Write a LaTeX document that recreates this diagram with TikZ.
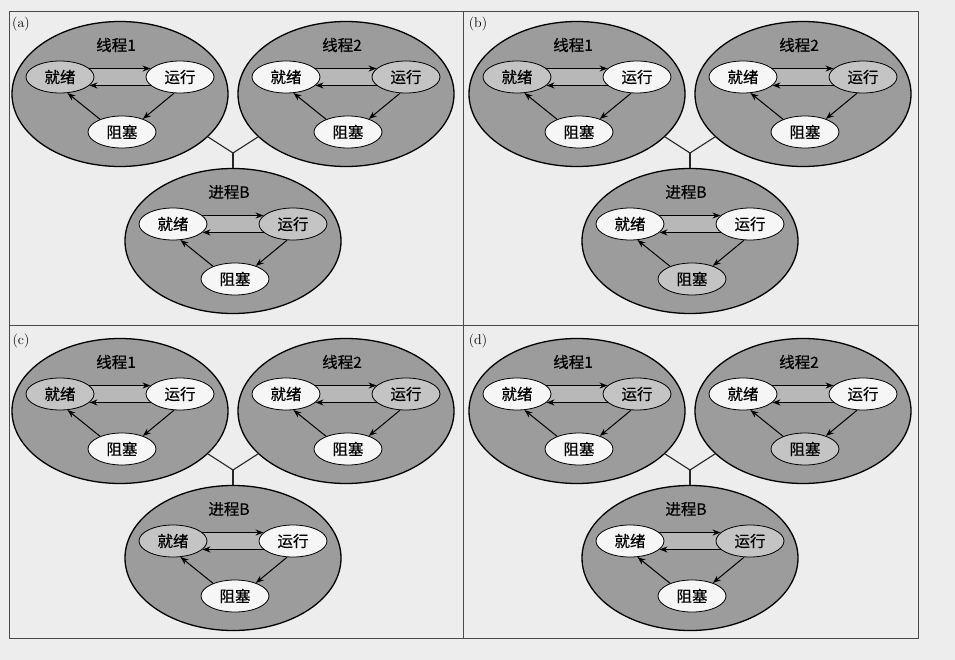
\documentclass[tikz,border=0pt]{standalone}
\usepackage{fontspec}
\newfontfamily\cjk[FakeBold=0.6]{Noto Sans CJK SC}
\usetikzlibrary{shapes.geometric,arrows.meta}
\definecolor{pagebg}{HTML}{EDEDED}
\definecolor{bigfill}{HTML}{9C9C9C}
\definecolor{bandfill}{HTML}{B8B8B8}
\definecolor{hifill}{HTML}{C4C4C4}
\definecolor{lofill}{HTML}{F6F6F6}
\definecolor{framecol}{HTML}{4A4A4A}
\tikzset{
 bigell/.style={ellipse, draw=black, line width=1.3pt, fill=bigfill, minimum width=216pt, minimum height=145pt, inner sep=0pt},
 stbox/.style={ellipse, draw=black, line width=0.8pt, minimum width=68pt, minimum height=32pt, inner sep=0pt, font=\cjk\fontsize{15.5}{15.5}\selectfont},
 ttl/.style={font=\cjk\fontsize{15.5}{15.5}\selectfont, inner sep=0pt},
 arr/.style={-{Stealth[length=8pt,width=6pt]}, line width=1pt},
 link/.style={line width=1.1pt, draw=black!85},
 plabel/.style={font=\fontsize{14}{14}\selectfont, inner sep=0pt},
 framel/.style={draw=framecol, line width=0.9pt}
}
\newcommand\procunit[6]{%
 \node[bigell] (#1) at (#2) {};
 \begin{scope}[shift={(#2)}]
  \fill[bandfill] (-32,-25) rectangle (31,-9);
  \node[ttl] (#1t) at (-4,-49) {#3};
  \node[stbox, fill=#4] (#1j) at (-60,-17) {就绪};
  \node[stbox, fill=#5] (#1r) at (60,-17) {运行};
  \node[stbox, fill=#6] (#1b) at (2,38) {阻塞};
 \end{scope}
 \draw[arr] (#1j.16) -- (#1r.164);
 \draw[arr] (#1r.-164) -- (#1j.-16);
 \draw[arr] (#1r.-110) -- (#1b.32);
 \draw[arr] (#1b.150) -- (#1j.-65);
}
\begin{document}
\begin{tikzpicture}[x=1pt, y=-1pt]
\useasboundingbox (0,0) rectangle (955,660);
\fill[pagebg] (0,0) rectangle (955,660);
\draw[framel] (9,11) rectangle (918,638);
\draw[framel] (463,11) -- (463,638);
\draw[framel] (9,325) -- (918,325);
% panel (a)
\begin{scope}[shift={(0,0)}]
 \node[plabel] (la) at (21,24) {(a)};
 \procunit{pa1}{120,94}{线程1}{hifill}{lofill}{lofill}
 \procunit{pa2}{346,94}{线程2}{lofill}{hifill}{lofill}
 \procunit{paB}{233,241}{进程B}{lofill}{hifill}{lofill}
 \coordinate (pajn) at (233,153);
 \draw[link] (pa1.-26) -- (pajn) -- (pa2.-154);
 \draw[link] (pajn) -- (paB.north);
\end{scope}
% panel (b)
\begin{scope}[shift={(457,0)}]
 \node[plabel] (lb) at (21,24) {(b)};
 \procunit{pb1}{120,94}{线程1}{hifill}{lofill}{lofill}
 \procunit{pb2}{346,94}{线程2}{lofill}{hifill}{lofill}
 \procunit{pbB}{233,241}{进程B}{lofill}{lofill}{hifill}
 \coordinate (pbjn) at (233,153);
 \draw[link] (pb1.-26) -- (pbjn) -- (pb2.-154);
 \draw[link] (pbjn) -- (pbB.north);
\end{scope}
% panel (c)
\begin{scope}[shift={(0,317)}]
 \node[plabel] (lc) at (21,24) {(c)};
 \procunit{pc1}{120,94}{线程1}{hifill}{lofill}{lofill}
 \procunit{pc2}{346,94}{线程2}{lofill}{hifill}{lofill}
 \procunit{pcB}{233,241}{进程B}{hifill}{lofill}{lofill}
 \coordinate (pcjn) at (233,153);
 \draw[link] (pc1.-26) -- (pcjn) -- (pc2.-154);
 \draw[link] (pcjn) -- (pcB.north);
\end{scope}
% panel (d)
\begin{scope}[shift={(457,317)}]
 \node[plabel] (ld) at (21,24) {(d)};
 \procunit{pd1}{120,94}{线程1}{lofill}{hifill}{lofill}
 \procunit{pd2}{346,94}{线程2}{lofill}{lofill}{hifill}
 \procunit{pdB}{233,241}{进程B}{lofill}{hifill}{lofill}
 \coordinate (pdjn) at (233,153);
 \draw[link] (pd1.-26) -- (pdjn) -- (pd2.-154);
 \draw[link] (pdjn) -- (pdB.north);
\end{scope}
\end{tikzpicture}
\end{document}
